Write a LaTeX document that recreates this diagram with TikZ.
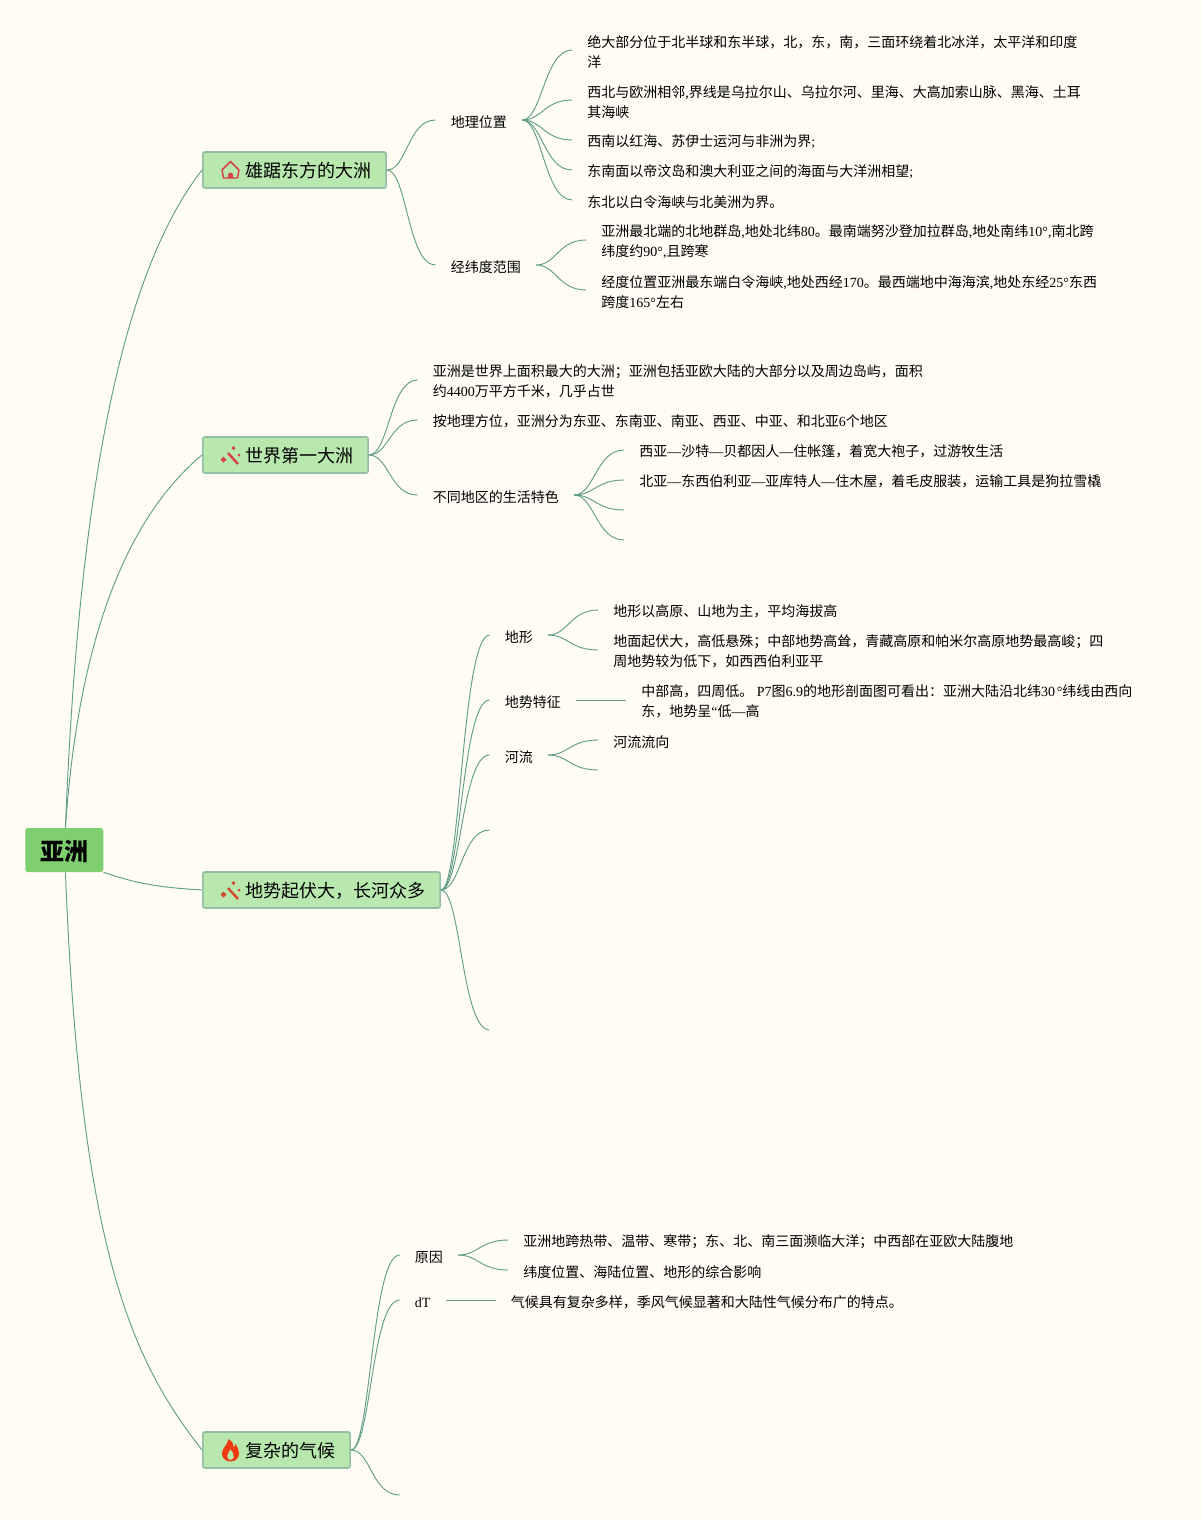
\documentclass[tikz,border=0pt]{standalone}
\usepackage{fontspec}
\usepackage{xcolor}
\setmainfont{Noto Sans CJK SC}
\newfontfamily\latfont{Liberation Serif}
\newcommand{\lat}[1]{{\latfont #1}}
\usetikzlibrary{positioning}
\definecolor{paper}{RGB}{255,252,243}
\definecolor{rootfill}{RGB}{127,206,111}
\definecolor{topicfill}{RGB}{184,232,174}
\definecolor{topicline}{RGB}{145,190,165}
\definecolor{linkgreen}{RGB}{96,158,136}
\definecolor{iconred}{RGB}{214,66,72}
\definecolor{iconorange}{RGB}{216,72,46}
\definecolor{flamered}{RGB}{240,58,18}
\tikzstyle{rootblock} = [
rectangle,
rounded corners=2pt,
anchor=west,
minimum height=33pt,
inner xsep=11.25pt,
text height=15.7pt,
text depth=0pt,
fill=rootfill,
font=\fontsize{18}{22}\selectfont\bfseries
]
\tikzstyle{topicblock} = [
rectangle,
rounded corners=1.5pt,
anchor=west,
minimum height=27pt,
inner xsep=11pt,
text height=12pt,
text depth=0.3pt,
draw=topicline,
fill=topicfill,
line width=1.2pt,
font=\fontsize{13.5}{18}\selectfont
]
\tikzstyle{leaf} = [
rectangle,
inner xsep=11.25pt,
inner ysep=0pt,
align=left,
execute at begin node={\rule{0pt}{11.6pt}},
font=\fontsize{10.5}{15}\selectfont
]
\tikzstyle{leaftwo} = [
leaf,
execute at begin node={\rule{0pt}{26.6pt}}
]
\tikzstyle{link} = [
draw=linkgreen,
line width=0.7pt
]
\tikzset{
housepic/.pic={
\draw [iconred, line width=1.1pt, line join=round] (-8.5,0) -- (0,-8.5) -- (8.5,0) -- (7,8) -- (-7,8) -- cycle;
\fill [iconred] (-2.5,8) -- (-2.5,5) arc (180:360:2.5) -- (2.5,8) -- cycle;
},
wandpic/.pic={
\draw [#1, line width=1.8pt] (-2,-3) -- (8,8);
\fill [#1] (-6.5,0.5) -- (-3.5,3.5) -- (-6.5,6.5) -- (-9.5,3.5) -- cycle;
\fill [#1] (3.5,-10) -- (5.5,-8) -- (3.5,-6) -- (1.5,-8) -- cycle;
\fill [#1] (9,-2.5) -- (10.5,-1) -- (9,0.5) -- (7.5,-1) -- cycle;
},
flamepic/.pic={
\fill [flamered, even odd rule] (0,11.5) .. controls (-5,11.5) and (-8.5,8) .. (-8.5,3.5) .. controls (-8.5,-2) and (-4,-3) .. (-2,-11) .. controls (3,-8) and (3,-5) .. (3,-3) .. controls (4,-3.5) and (5,-5) .. (5,-6) .. controls (7,-3) and (8.5,0) .. (8.5,3.5) .. controls (8.5,8) and (5,11.5) .. (0,11.5) -- cycle
(0,10) .. controls (-2,10) and (-3.5,8.5) .. (-3.5,6) .. controls (-3.5,3) and (-1,2) .. (0,-1) .. controls (2,2) and (3.5,4) .. (3.5,6.5) .. controls (3.5,8.5) and (2,10) .. (0,10) -- cycle;
}
}
\begin{document}
\begin{tikzpicture}[x=0.75pt, y=-0.75pt, node distance=1cm and 37.5pt]

\fill [paper] (0,0) rectangle (1201,1520);
\useasboundingbox (0,0) rectangle (1201,1520);

\node (asia) [rootblock] at (25,850) {亚洲};

\node (east) [topicblock] at (202,170) {\hspace*{21pt}雄踞东方的大洲};
\node (first) [topicblock] at (202,455) {\hspace*{21pt}世界第一大洲};
\node (relief) [topicblock] at (202,890) {\hspace*{21pt}地势起伏大，长河众多};
\node (climate) [topicblock] at (202,1450) {\hspace*{21pt}复杂的气候};

\pic at (230.5,170) {housepic};
\pic at (230,456) {wandpic=iconred};
\pic at (230,891) {wandpic=iconorange};
\pic at (230.5,1450) {flamepic};

\node (place) [leaf, right=36.5pt of east, yshift=37.5pt] {地理位置};
\node (range) [leaf, right=36.5pt of east, yshift=-71.25pt] {经纬度范围};

\node (place1) [leaftwo, right=of place, yshift=52.5pt] {绝大部分位于北半球和东半球，北，东，南，三面环绕着北冰洋，太平洋和印度\\洋};
\node (place2) [leaftwo, right=of place, yshift=15pt] {西北与欧洲相邻\lat{,}界线是乌拉尔山、乌拉尔河、里海、大高加索山脉、黑海、土耳\\其海峡};
\node (place3) [leaf, right=of place, yshift=-15pt] {西南以红海、苏伊士运河与非洲为界\lat{;}};
\node (place4) [leaf, right=of place, yshift=-37.5pt] {东南面以帝汶岛和澳大利亚之间的海面与大洋洲相望\lat{;}};
\node (place5) [leaf, right=of place, yshift=-60pt] {东北以白令海峡与北美洲为界。};

\node (range1) [leaftwo, right=of range, yshift=18.75pt] {亚洲最北端的北地群岛\lat{,}地处北纬\lat{80}。最南端努沙登加拉群岛\lat{,}地处南纬\lat{10°,}南北跨\\纬度约\lat{90°,}且跨寒};
\node (range2) [leaftwo, right=of range, yshift=-18.75pt] {经度位置亚洲最东端白令海峡\lat{,}地处西经\lat{170}。最西端地中海海滨\lat{,}地处东经\lat{25°}东西\\跨度\lat{165°}左右};

\node (size) [leaftwo, right=36.5pt of first, yshift=56.25pt] {亚洲是世界上面积最大的大洲；亚洲包括亚欧大陆的大部分以及周边岛屿，面积\\约\lat{4400}万平方千米，几乎占世};
\node (zones) [leaf, right=36.5pt of first, yshift=26.25pt] {按地理方位，亚洲分为东亚、东南亚、南亚、西亚、中亚、和北亚\lat{6}个地区};
\node (life) [leaf, right=36.5pt of first, yshift=-30pt] {不同地区的生活特色};

\node (life1) [leaf, right=of life, yshift=33.75pt] {西亚\lat{—}沙特\lat{—}贝都因人\lat{—}住帐篷，着宽大袍子，过游牧生活};
\node (life2) [leaf, right=of life, yshift=11.25pt] {北亚\lat{—}东西伯利亚\lat{—}亚库特人\lat{—}住木屋，着毛皮服装，运输工具是狗拉雪橇};
\coordinate [right=of life, yshift=-11.25pt] (life3);
\coordinate [right=of life, yshift=-33.75pt] (life4);

\node (land) [leaf, right=36.5pt of relief, yshift=191.25pt] {地形};
\node (slope) [leaf, right=36.5pt of relief, yshift=142.5pt] {地势特征};
\node (river) [leaf, right=36.5pt of relief, yshift=101.25pt] {河流};
\coordinate [right=36.5pt of relief, yshift=45pt] (relief4);
\coordinate [right=36.5pt of relief, yshift=-105pt] (relief5);

\node (land1) [leaf, right=of land, yshift=18.75pt] {地形以高原、山地为主，平均海拔高};
\node (land2) [leaftwo, right=of land, yshift=-11.25pt] {地面起伏大，高低悬殊；中部地势高耸，青藏高原和帕米尔高原地势最高峻；四\\周地势较为低下，如西西伯利亚平};
\node (slope1) [leaftwo, right=of slope] {中部高，四周低。\lat{ P7}图\lat{6.9}的地形剖面图可看出：亚洲大陆沿北纬\lat{30\hspace{1.2pt}°}纬线由西向\\东，地势呈\lat{“}低\lat{—}高};
\node (river1) [leaf, right=of river, yshift=11.25pt] {河流流向};
\coordinate [right=of river, yshift=-11.25pt] (river2);

\node (cause) [leaf, right=36.5pt of climate, yshift=146.25pt] {原因};
\node (dt) [leaf, right=36.5pt of climate, yshift=112.5pt] {\lat{dT}};
\coordinate [right=36.5pt of climate, yshift=-33.75pt] (climate3);

\node (cause1) [leaf, right=of cause, yshift=11.25pt] {亚洲地跨热带、温带、寒带；东、北、南三面濒临大洋；中西部在亚欧大陆腹地};
\node (cause2) [leaf, right=of cause, yshift=-11.25pt] {纬度位置、海陆位置、地形的综合影响};
\node (dt1) [leaf, right=of dt] {气候具有复杂多样，季风气候显著和大陆性气候分布广的特点。};

\draw [link] (asia.87) .. controls +(15,-380) and +(-70,90) .. (east.west);
\draw [link] (asia.87) .. controls +(15,-220) and +(-60,50) .. (first.west);
\draw [link] (asia.south east) .. controls +(30,10) and +(-50,-3) .. (relief.west);
\draw [link] (asia.-87) .. controls +(15,380) and +(-70,-90) .. (climate.west);

\foreach \a/\b in {east/place, east/range, place/place1, place/place2, place/place3, place/place4, place/place5, range/range1, range/range2, first/size, first/zones, first/life, life/life1, life/life2, life/life3, life/life4, relief/land, relief/slope, relief/river, relief/relief4, relief/relief5, land/land1, land/land2, river/river1, river/river2, climate/cause, climate/dt, climate/climate3, cause/cause1, cause/cause2}
\draw [link] (\a.east) .. controls +(20,0) and +(-28,0) .. (\b.west);

\draw [link] (slope) -- (slope1);
\draw [link] (dt) -- (dt1);

\end{tikzpicture}
\end{document}
